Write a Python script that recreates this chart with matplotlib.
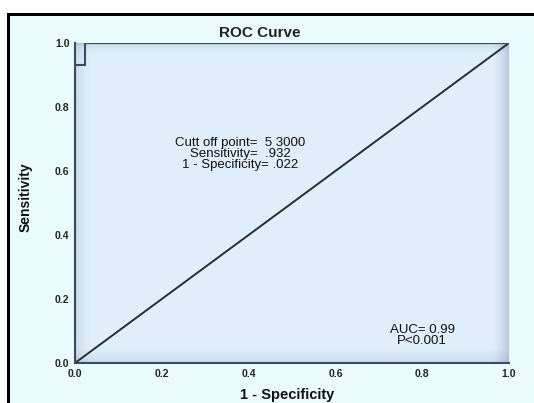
import numpy as np
import matplotlib
matplotlib.use("Agg")
import matplotlib.pyplot as plt
from matplotlib.patches import Rectangle

# Data
roc_fpr = [0.0, 0.0, 0.022, 0.022, 1.0]
roc_tpr = [0.0, 0.932, 0.932, 1.0, 1.0]
ref_x = [0.0, 1.0]
ref_y = [0.0, 1.0]
ticks = [0.0, 0.2, 0.4, 0.6, 0.8, 1.0]
tick_labels = ["0.0", "0.2", "0.4", "0.6", "0.8", "1.0"]
cutoff_text = "Cutt off point=  5 3000\nSensitivity=  .932\n1 - Specificity= .022"
auc_text = "AUC= 0.99\nP<0.001"

FONT = "Liberation Sans"
W, H = 534, 403
fig = plt.figure(figsize=(W / 100, H / 100), dpi=100)
fig.patch.set_facecolor("white")

# light cyan background inside the black frame
fig.patches.append(Rectangle((10 / W, 0), 1, 1 - 16 / H, transform=fig.transFigure,
                             facecolor="#eafbfd", edgecolor="none", zorder=-10))
# black frame (top and left)
fig.patches.append(Rectangle((7 / W, 1 - 16 / H), 1, 3 / H, transform=fig.transFigure,
                             facecolor="black", edgecolor="none", zorder=-9))
fig.patches.append(Rectangle((7 / W, 0), 3 / W, 1 - 13 / H, transform=fig.transFigure,
                             facecolor="black", edgecolor="none", zorder=-9))

L, R, T, B = 75, 509, 43, 363
ax = fig.add_axes([L / W, 1 - B / H, (R - L) / W, (B - T) / H])
ax.set_facecolor("#dcecf9")

# soft shading toward the edges of the plot area
ny, nx = 320, 434
yy, xx = np.mgrid[0:1:ny * 1j, 0:1:nx * 1j]
shade = (np.clip((xx - 0.96) / 0.04, 0, 1) ** 1.5 * 0.55
         + np.clip((0.05 - yy) / 0.05, 0, 1) ** 1.5 * 0.3
         + np.clip((yy - 0.96) / 0.04, 0, 1) ** 1.5 * 0.3
         + np.clip((yy - 0.99) / 0.01, 0, 1) * 0.4
         + np.clip((0.04 - xx) / 0.04, 0, 1) ** 1.5 * 0.3)
shade = np.clip(shade, 0, 1)
c0 = np.array([0.875, 0.935, 0.982])
c1 = np.array([0.60, 0.68, 0.77])
img = c0[None, None, :] * (1 - shade[..., None]) + c1[None, None, :] * shade[..., None]
ax.imshow(img, extent=(0, 1, 0, 1), origin="lower", aspect="auto", zorder=0, interpolation="bilinear")

ax.plot(ref_x, ref_y, color="#2b2b2b", lw=1.4, zorder=3)
ax.plot(roc_fpr, roc_tpr, color="#3c4c60", lw=1.5, zorder=4, solid_joinstyle="miter")

ax.set_xlim(0, 1)
ax.set_ylim(0, 1)
for s in ["top", "right"]:
    ax.spines[s].set_visible(False)
for s in ["left", "bottom"]:
    ax.spines[s].set_color("#3c4c60")
    ax.spines[s].set_linewidth(1.5)
ax.set_xticks(ticks)
ax.set_xticklabels(tick_labels)
ax.set_yticks(ticks)
ax.set_yticklabels(tick_labels)
ax.tick_params(length=0, labelsize=7.5, pad=4, colors="#222222")
for lab in ax.get_xticklabels() + ax.get_yticklabels():
    lab.set_fontweight("bold")
    lab.set_family(FONT)

ax.text(0.426, 1.031, "ROC Curve", transform=ax.transAxes, ha="center", va="center",
        fontsize=11, fontweight="bold", family=FONT, color="#222222")
ax.set_xlabel("1 - Specificity", fontsize=10.5, fontweight="bold", family=FONT, color="#111111")
ax.xaxis.set_label_coords(0.488, -0.077)
ax.set_ylabel("Sensitivity", fontsize=10, fontweight="bold", family=FONT, color="#111111")
ax.yaxis.set_label_coords(-0.097, 0.519)

ax.text(0.38, 0.653, cutoff_text, ha="center", va="center", fontsize=9.5,
        family=FONT, color="#111111", linespacing=0.92, zorder=5)
ax.text(0.80, 0.086, auc_text, ha="center", va="center", fontsize=9.5,
        family=FONT, color="#111111", linespacing=0.9, zorder=5)

fig.savefig("out.png", dpi=100, facecolor=fig.get_facecolor())
